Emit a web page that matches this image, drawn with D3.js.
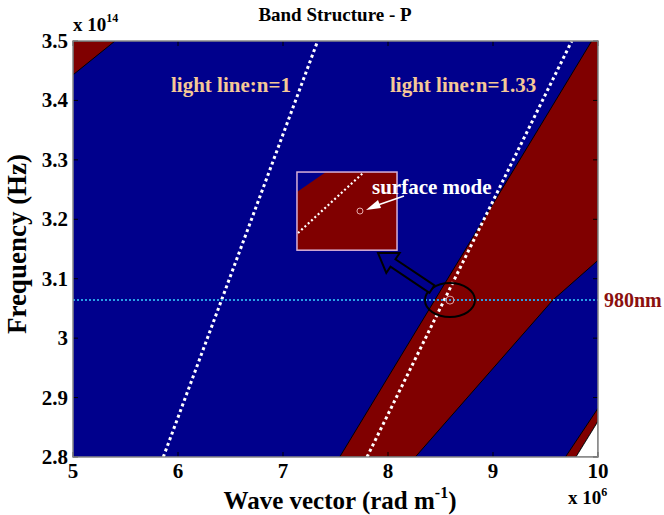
<!DOCTYPE html>
<html><head><meta charset="utf-8">
<script src="https://cdn.jsdelivr.net/npm/d3@7"></script>
<style>body{margin:0;background:#fff}svg{display:block}text{font-family:"Liberation Serif","Times New Roman",serif;font-weight:bold}</style>
</head><body><svg id="c" width="664" height="515"></svg>
<script>
// Data (x: wave vector in 1e6 rad/m, y: frequency in 1e14 Hz)
const xTicks = [5, 6, 7, 8, 9, 10];
const yTicks = [2.8, 2.9, 3.0, 3.1, 3.2, 3.3, 3.4, 3.5];
const yTickLabels = ["2.8", "2.9", "3", "3.1", "3.2", "3.3", "3.4", "3.5"];
const xTickLabels = ["5", "6", "7", "8", "9", "10"];
// Band regions (red = allowed)
const bandTopLeft = [[5, 3.5], [5.4, 3.5], [5, 3.443]];
const bandMain = [[7.54, 2.8], [8.26, 2.8], [9.57, 3.064], [10, 3.131], [10, 3.5], [9.94, 3.5]];
const bandBottomRight = [[9.69, 2.8], [9.79, 2.8], [10, 2.86], [10, 2.882]];
const blankCorner = [[9.79, 2.8], [10, 2.8], [10, 2.86]];
// Light lines
const lightLine1 = [[5.86, 2.8], [7.33, 3.5]];
const lightLine133 = [[7.80, 2.8], [9.75, 3.5]];
const freq980 = 3.064;
// Annotations
const insetBox = [7.133, 8.086, 3.148, 3.2795];
const surfaceMode = [8.59, 3.064];

const svg = d3.select("#c");
const L = 73, R = 598, T = 41, B = 457;
const x = d3.scaleLinear().domain([5, 10]).range([L, R]);
const y = d3.scaleLinear().domain([2.8, 3.5]).range([B, T]);
const BLUE = "#00008C", RED = "#800000";

svg.append("defs").append("clipPath").attr("id", "clip")
  .append("rect").attr("x", L).attr("y", T).attr("width", R - L).attr("height", B - T);
const g = svg.append("g").attr("clip-path", "url(#clip)");
g.append("rect").attr("x", L).attr("y", T).attr("width", R - L).attr("height", B - T).attr("fill", BLUE);
const poly = d3.line().x(d => x(d[0])).y(d => y(d[1]));
[bandTopLeft, bandMain, bandBottomRight].forEach(p => {
  g.append("path").attr("d", poly(p) + "Z").attr("fill", RED).attr("stroke", "#000").attr("stroke-width", 1);
});
g.append("path").attr("d", poly(blankCorner) + "Z").attr("fill", "#fff").attr("stroke", "#000").attr("stroke-width", 0.8);

// light lines
[lightLine1, lightLine133].forEach(p => {
  g.append("path").attr("d", poly(p)).attr("stroke", "#fff").attr("stroke-width", 3)
    .attr("stroke-dasharray", "3,3").attr("fill", "none");
});
// 980 nm line
g.append("line").attr("x1", L).attr("x2", R).attr("y1", y(freq980)).attr("y2", y(freq980))
  .attr("stroke", "#2AA0E6").attr("stroke-width", 2).attr("stroke-dasharray", "2,2");

// ticks (inside, all sides)
const tl = 5;
xTicks.forEach(t => {
  svg.append("line").attr("x1", x(t)).attr("x2", x(t)).attr("y1", B).attr("y2", B - tl).attr("stroke", "#000");
  svg.append("line").attr("x1", x(t)).attr("x2", x(t)).attr("y1", T).attr("y2", T + tl).attr("stroke", "#000");
});
yTicks.forEach(t => {
  svg.append("line").attr("y1", y(t)).attr("y2", y(t)).attr("x1", L).attr("x2", L + tl).attr("stroke", "#000");
  svg.append("line").attr("y1", y(t)).attr("y2", y(t)).attr("x1", R).attr("x2", R - tl).attr("stroke", "#000");
});
svg.append("rect").attr("x", L).attr("y", T).attr("width", R - L).attr("height", B - T)
  .attr("fill", "none").attr("stroke", "#888").attr("stroke-width", 1.5);

// tick labels
xTicks.forEach((t, i) => {
  svg.append("text").attr("x", x(t)).attr("y", 478).attr("text-anchor", "middle")
    .attr("font-size", 21).text(xTickLabels[i]);
});
yTicks.forEach((t, i) => {
  svg.append("text").attr("x", L - 5).attr("y", y(t) + 7).attr("text-anchor", "end")
    .attr("font-size", 21).text(yTickLabels[i]);
});
// exponents
const e14 = svg.append("text").attr("x", L).attr("y", 31).attr("font-size", 19);
e14.append("tspan").text("x 10");
e14.append("tspan").attr("dy", -9).attr("font-size", 12).text("14");
const e6 = svg.append("text").attr("x", 568).attr("y", 504).attr("font-size", 19);
e6.append("tspan").text("x 10");
e6.append("tspan").attr("dy", -8).attr("font-size", 12).text("6");

// title & axis labels
svg.append("text").attr("x", 335).attr("y", 21).attr("text-anchor", "middle").attr("font-size", 19)
  .text("Band Structure - P");
const xl = svg.append("text").attr("x", 340).attr("y", 509).attr("text-anchor", "middle").attr("font-size", 25);
xl.append("tspan").text("Wave vector (rad m");
xl.append("tspan").attr("dy", -11).attr("font-size", 16).text("-1");
xl.append("tspan").attr("dy", 11).text(")");
svg.append("text").attr("transform", "translate(26,244) rotate(-90)").attr("text-anchor", "middle")
  .attr("font-size", 27).text("Frequency (Hz)");

// light line labels
svg.append("text").attr("x", 171).attr("y", 92).attr("font-size", 21).attr("fill", "#F5C896").text("light line:n=1");
svg.append("text").attr("x", 390).attr("y", 92).attr("font-size", 21).attr("fill", "#F5C896").text("light line:n=1.33");

// 980nm label
svg.append("text").attr("x", 604).attr("y", 307).attr("font-size", 20).attr("fill", "#8B1010").text("980nm");

// inset
const ix0 = x(insetBox[0]), ix1 = x(insetBox[1]), iy0 = y(insetBox[3]), iy1 = y(insetBox[2]);
svg.append("rect").attr("x", ix0).attr("y", iy0).attr("width", ix1 - ix0).attr("height", iy1 - iy0).attr("fill", RED);
svg.append("path").attr("d", `M${ix0},${iy0}L${ix0 + 29},${iy0}L${ix0},${iy0 + 20}Z`).attr("fill", BLUE);
svg.append("line").attr("x1", ix0 + 1).attr("y1", iy0 + 61).attr("x2", ix0 + 66).attr("y2", iy0 + 1)
  .attr("stroke", "#fff").attr("stroke-width", 2.2).attr("stroke-dasharray", "2,2.5");
svg.append("circle").attr("cx", ix0 + 63).attr("cy", iy0 + 39).attr("r", 3).attr("fill", "none").attr("stroke", "#E8B0B0").attr("stroke-width", 1);
svg.append("rect").attr("x", ix0).attr("y", iy0).attr("width", ix1 - ix0).attr("height", iy1 - iy0)
  .attr("fill", "none").attr("stroke", "#D8B0D8").attr("stroke-width", 1.5);
svg.append("text").attr("x", 372).attr("y", 194).attr("font-size", 21).attr("fill", "#fff").text("surface mode");
// white arrow to circle
svg.append("line").attr("x1", 404).attr("y1", 196).attr("x2", 375).attr("y2", 206).attr("stroke", "#fff").attr("stroke-width", 1.5);
svg.append("path").attr("d", "M366,210L378,200L381,208Z").attr("fill", "#fff");

// ellipse & small circle at surface mode
const sx = x(surfaceMode[0]), sy = y(surfaceMode[1]);
svg.append("circle").attr("cx", sx).attr("cy", sy).attr("r", 4).attr("fill", "none").attr("stroke", "#E8A0A0").attr("stroke-width", 1);
svg.append("ellipse").attr("cx", sx).attr("cy", sy).attr("rx", 25).attr("ry", 17).attr("fill", "none").attr("stroke", "#000").attr("stroke-width", 2);

// hollow arrow from ellipse to inset
(function () {
  const tail = [sx - 18, sy - 11], tip = [378, 253];
  const dx = tip[0] - tail[0], dy = tip[1] - tail[1], len = Math.hypot(dx, dy);
  const ux = dx / len, uy = dy / len, nx = -uy, ny = ux;
  const hw = 4.5, hh = 12, hl = 18;
  const bx = tip[0] - ux * hl, by = tip[1] - uy * hl;
  const pts = [
    [tail[0] + nx * hw, tail[1] + ny * hw], [bx + nx * hw, by + ny * hw], [bx + nx * hh, by + ny * hh],
    tip, [bx - nx * hh, by - ny * hh], [bx - nx * hw, by - ny * hw], [tail[0] - nx * hw, tail[1] - ny * hw]
  ];
  svg.append("path").attr("d", d3.line()(pts) + "Z").attr("fill", BLUE).attr("stroke", "#000").attr("stroke-width", 2).attr("stroke-linejoin", "miter");
})();
</script></body></html>
